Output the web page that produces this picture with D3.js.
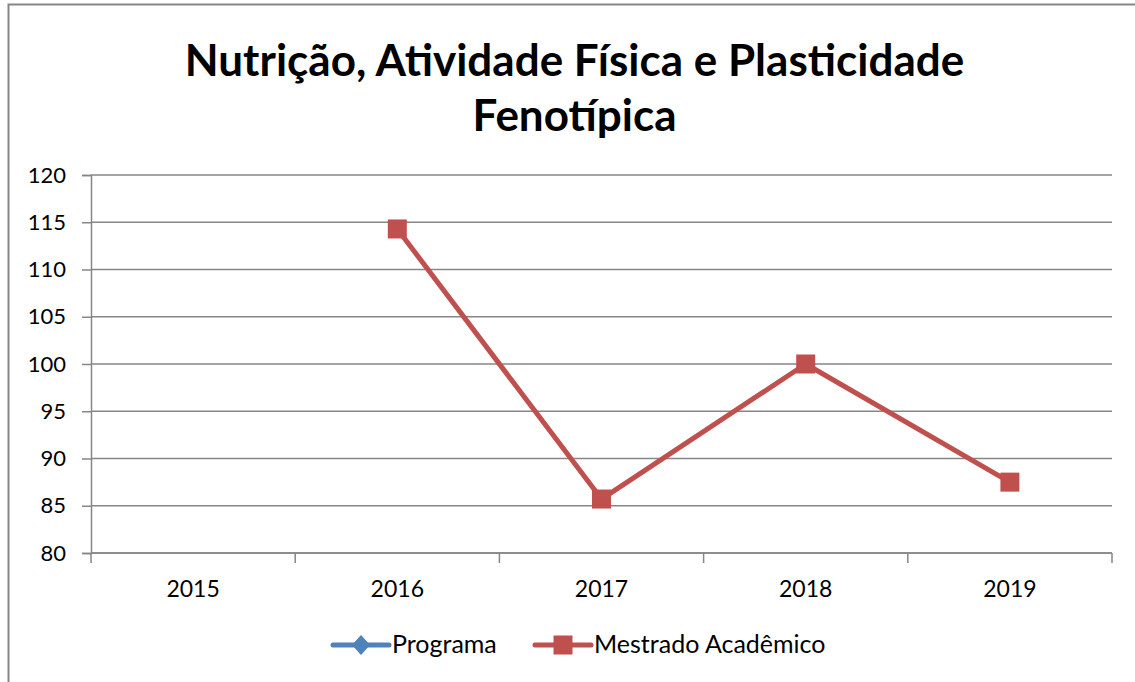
<!DOCTYPE html>
<html>
<head>
<meta charset="utf-8">
<script src="https://cdn.jsdelivr.net/npm/d3@7"></script>
<style>
  html, body { margin: 0; padding: 0; background: #fff; }
  svg { display: block; font-family: Lato, "Open Sans", sans-serif; }
</style>
</head>
<body>
<svg id="chart" width="1135" height="682"></svg>
<script>
// Chart data
const years = ["2015", "2016", "2017", "2018", "2019"];
const programa = [null, null, null, null, null];
const mestradoAcademico = [null, 114.29, 85.71, 100, 87.5];
const yTicks = [80, 85, 90, 95, 100, 105, 110, 115, 120];
const titleLines = ["Nutrição, Atividade Física e Plasticidade", "Fenotípica"];
const seriesNames = ["Programa", "Mestrado Acadêmico"];

const svg = d3.select("#chart");
const grid = "#868686";
const red = "#C0504D", blue = "#4F81BD";

// outer chart border
svg.append("rect")
  .attr("x", 8.5).attr("y", 4.5)
  .attr("width", 1140).attr("height", 700)
  .attr("fill", "none").attr("stroke", grid).attr("stroke-width", 2);

const plot = { left: 91, right: 1112, top: 175, bottom: 553 };

const x = d3.scaleBand().domain(years).range([plot.left, plot.right]);
const y = d3.scaleLinear().domain([80, 120]).range([plot.bottom, plot.top]);

// title
const title = svg.append("text")
  .attr("text-anchor", "middle")
  .attr("font-weight", "bold")
  .attr("font-size", 44)
  .attr("fill", "#000");
titleLines.forEach((t, i) => {
  title.append("tspan").attr("x", 574.5).attr("y", 76 + i * 55).text(t);
});

// horizontal gridlines
svg.append("g").selectAll("line").data(yTicks).join("line")
  .attr("x1", plot.left).attr("x2", plot.right)
  .attr("y1", d => y(d)).attr("y2", d => y(d))
  .attr("stroke", grid).attr("stroke-width", 1.5);

// y axis
const yAxis = svg.append("g")
  .attr("transform", `translate(${plot.left},0)`)
  .call(d3.axisLeft(y).tickValues(yTicks).tickSize(9).tickPadding(16).tickFormat(d3.format("d")));
yAxis.select(".domain").attr("stroke", grid).attr("stroke-width", 1.5);
yAxis.selectAll(".tick line").attr("stroke", grid).attr("stroke-width", 1.5);
yAxis.selectAll("text").attr("font-size", 22).attr("fill", "#000").attr("font-family", "Lato, sans-serif");

// x axis with ticks at category boundaries
const xAxisG = svg.append("g").attr("transform", `translate(0,${plot.bottom})`);
xAxisG.append("line")
  .attr("x1", plot.left).attr("x2", plot.right)
  .attr("stroke", grid).attr("stroke-width", 1.5);
const bounds = years.map(d => x(d)).concat([x(years[years.length - 1]) + x.bandwidth()]);
xAxisG.selectAll("line.tk").data(bounds).join("line").attr("class", "tk")
  .attr("x1", d => d).attr("x2", d => d)
  .attr("y1", 0).attr("y2", 10)
  .attr("stroke", grid).attr("stroke-width", 1.5);
xAxisG.selectAll("text").data(years).join("text")
  .attr("x", d => x(d) + x.bandwidth() / 2)
  .attr("y", 44)
  .attr("text-anchor", "middle")
  .attr("font-size", 23)
  .attr("fill", "#000")
  .text(d => d);

const cx = (d, i) => x(years[i]) + x.bandwidth() / 2;

// series lines
const line = d3.line()
  .defined(d => d != null)
  .x((d, i) => cx(d, i))
  .y(d => y(d));

svg.append("path").datum(programa)
  .attr("d", line).attr("fill", "none")
  .attr("stroke", blue).attr("stroke-width", 5);

svg.append("path").datum(mestradoAcademico)
  .attr("d", line).attr("fill", "none")
  .attr("stroke", red).attr("stroke-width", 5).attr("stroke-linejoin", "round");

// markers
const ms = 19;
svg.append("g").selectAll("rect")
  .data(mestradoAcademico.map((v, i) => ({ v, i })).filter(d => d.v != null))
  .join("rect")
  .attr("x", d => cx(d.v, d.i) - ms / 2)
  .attr("y", d => y(d.v) - ms / 2)
  .attr("width", ms).attr("height", ms)
  .attr("fill", red);

svg.append("g").selectAll("path")
  .data(programa.map((v, i) => ({ v, i })).filter(d => d.v != null))
  .join("path")
  .attr("d", d3.symbol(d3.symbolDiamond, 200))
  .attr("transform", d => `translate(${cx(d.v, d.i)},${y(d.v)})`)
  .attr("fill", blue);

// legend
const legend = svg.append("g");
const legY = 645;
const items = [
  { name: seriesNames[0], color: blue, x0: 333, shape: "diamond" },
  { name: seriesNames[1], color: red, x0: 535, shape: "square" }
];
items.forEach(it => {
  legend.append("line")
    .attr("x1", it.x0).attr("x2", it.x0 + 56)
    .attr("y1", legY).attr("y2", legY)
    .attr("stroke", it.color).attr("stroke-width", 5).attr("stroke-linecap", "round");
  if (it.shape === "diamond") {
    legend.append("path")
      .attr("d", "M0,-10L9,0L0,10L-9,0Z")
      .attr("transform", `translate(${it.x0 + 28},${legY})`)
      .attr("fill", it.color);
  } else {
    legend.append("rect")
      .attr("x", it.x0 + 28 - 9.5).attr("y", legY - 9.5)
      .attr("width", 19).attr("height", 19)
      .attr("fill", it.color);
  }
  legend.append("text")
    .attr("x", it.x0 + 59).attr("y", legY + 8)
    .attr("font-size", 25)
    .attr("fill", "#000")
    .text(it.name);
});
</script>
</body>
</html>
